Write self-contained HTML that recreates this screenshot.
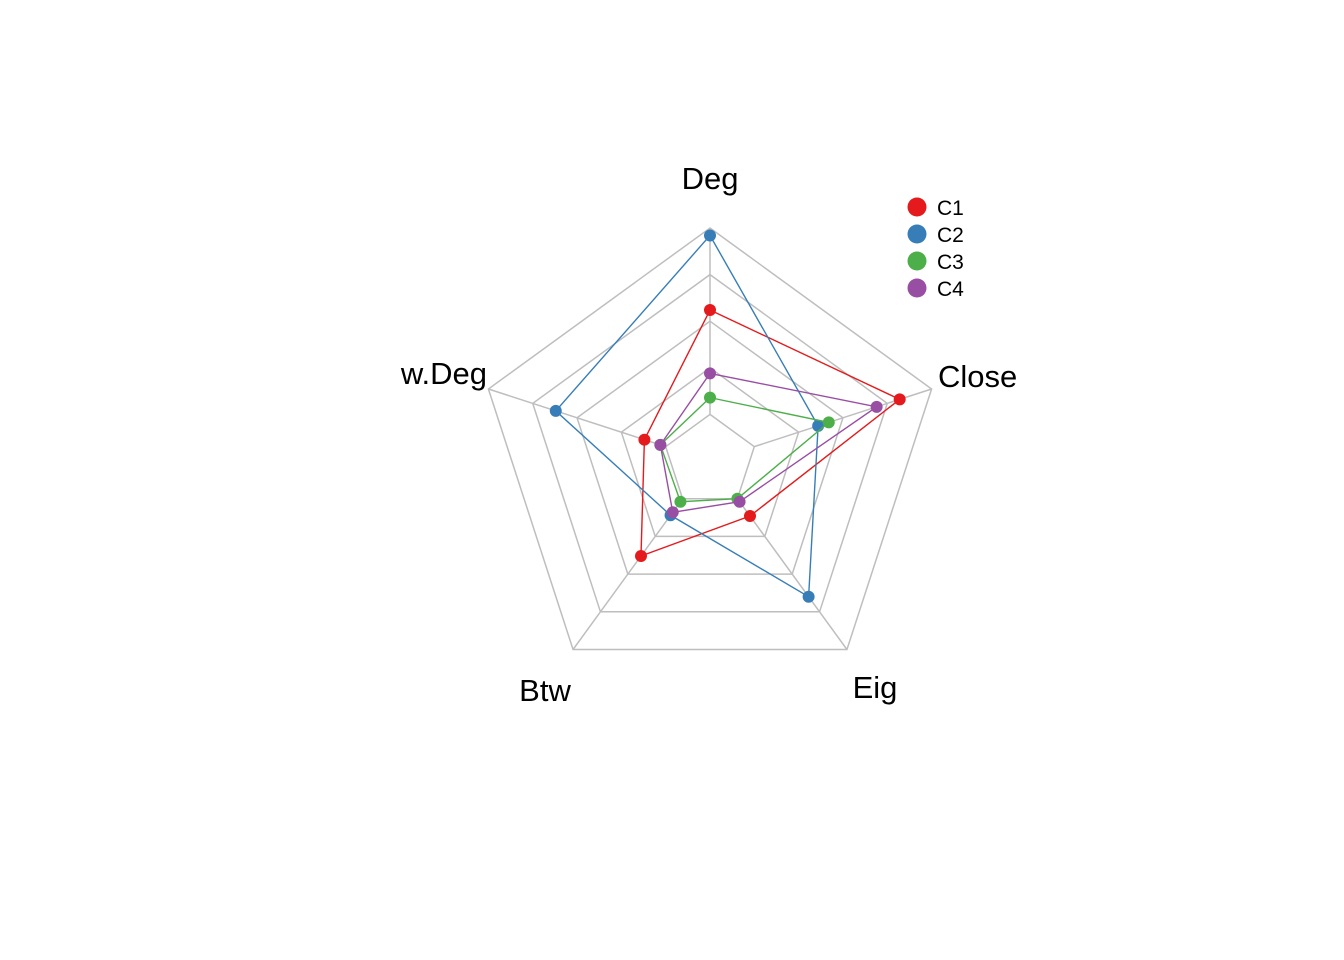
<!DOCTYPE html>
<html><head><meta charset="utf-8"><style>
html,body{margin:0;padding:0;background:#fff;}
svg{display:block;font-family:"Liberation Sans",Arial,sans-serif;}
</style></head><body>
<svg id="chart" width="1344" height="960" viewBox="0 0 1344 960" xmlns="http://www.w3.org/2000/svg">
<g id="grid"></g>
<g id="series"></g>
<g id="labels"></g>
<g id="legend"></g>
</svg>
<script>
const axes = ["Deg","Close","Eig","Btw","w.Deg"];
const seriesNames = ["C1","C2","C3","C4"];
const c1 = [0.56,0.82,0.115,0.38,0.12];
const c2 = [0.96,0.36,0.65,0.11,0.62];
const c3 = [0.09,0.42,0.0,0.02,0.03];
const c4 = [0.22,0.69,0.02,0.09,0.03];
const seriesData = [c1,c2,c3,c4];
const colors = ["#E41A1C","#377EB8","#4DAF4A","#984EA3"];
const NS="http://www.w3.org/2000/svg";
const cx=710, cy=461, R=233, seg=4;
function ang(i){return -Math.PI/2 + i*2*Math.PI/axes.length;}
function rad(v){return R*(1+seg*v)/(seg+1);}
function pt(i,r){return [cx+r*Math.cos(ang(i)), cy+r*Math.sin(ang(i))];}
function mk(tag,attrs,parent){const e=document.createElementNS(NS,tag);for(const k in attrs)e.setAttribute(k,attrs[k]);parent.appendChild(e);return e;}
const grid=document.getElementById('grid');
for(let s=1;s<=seg+1;s++){
  const r=R*s/(seg+1);
  const p=axes.map((a,i)=>pt(i,r).join(',')).join(' ');
  const e=mk('polygon',{points:p,fill:'none',stroke:'#BEBEBE','stroke-width':1.5},grid);
  
  
}
axes.forEach((a,i)=>{
  const p0=pt(i,R/(seg+1)), p1=pt(i,R);
  const e=mk('line',{x1:p0[0],y1:p0[1],x2:p1[0],y2:p1[1],stroke:'#BEBEBE','stroke-width':1.5},grid);
  
  
});
const sg=document.getElementById('series');
seriesData.forEach((d,k)=>{
  const g=mk('g',{},sg);
  
  
  const pts=d.map((v,i)=>pt(i,rad(v)));
  const pl=mk('polygon',{points:pts.map(p=>p.join(',')).join(' '),fill:'none',stroke:colors[k],'stroke-width':1.4},g);
  
  
  pts.forEach(p=>{
    const c=mk('circle',{cx:p[0],cy:p[1],r:6,fill:colors[k]},g);
    
    
  });
});
const lab=document.getElementById('labels');
const lpos=[[710,189,'middle'],[938,387,'start'],[875,698,'middle'],[545,701,'middle'],[487,384,'end']];
axes.forEach((a,i)=>{
  const t=mk('text',{x:lpos[i][0],y:lpos[i][1],'text-anchor':lpos[i][2],'font-size':31,fill:'#000'},lab);
  t.textContent=a;
  
  
});
const lg=document.getElementById('legend');
seriesNames.forEach((n,k)=>{
  const y=207+k*27;
  const c=mk('circle',{cx:917,cy:y,r:9.5,fill:colors[k]},lg);
  
  
  const t=mk('text',{x:937,y:y+8,'font-size':21,fill:'#000'},lg);
  t.textContent=n;
  
  
});
</script>
</body></html>
